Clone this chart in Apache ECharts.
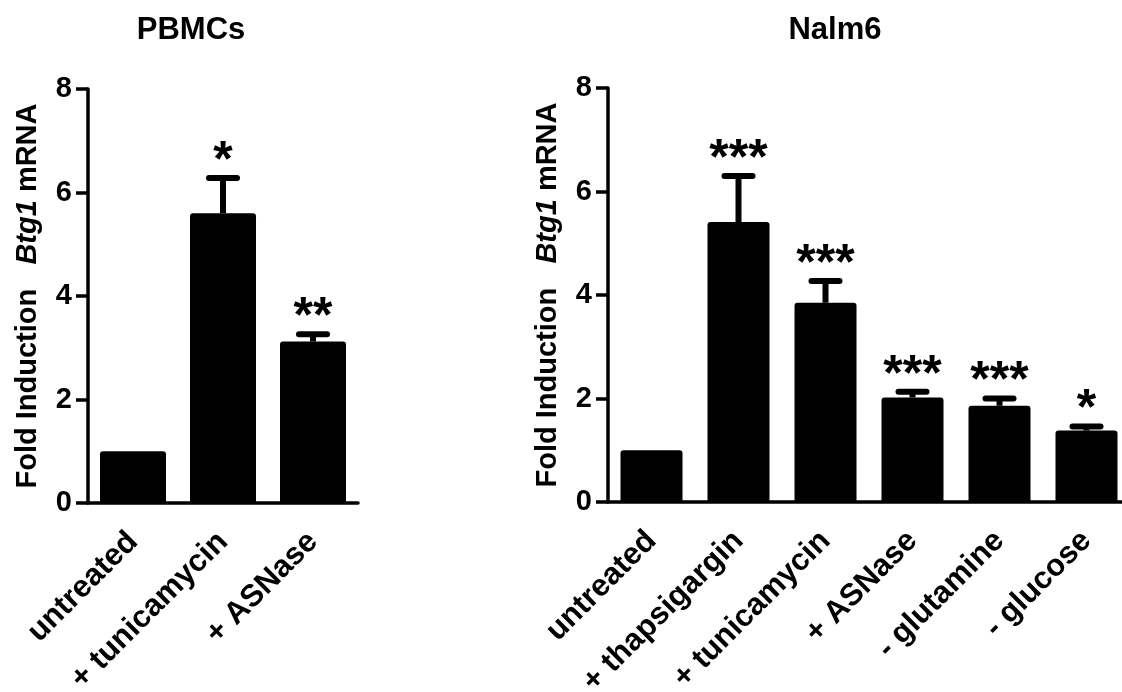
<!DOCTYPE html>
<html><head><meta charset="utf-8">
<script src="https://cdn.jsdelivr.net/npm/echarts@6/dist/echarts.min.js"></script>
<style>html,body{margin:0;padding:0;background:#fff}#c{width:1122px;height:692px}</style>
</head><body><div id="c"></div>
<script>
const pbmcCategories = ['untreated', '+ tunicamycin', '+ ASNase'];
const pbmcMeans = [1.0, 5.6, 3.12];
const pbmcErrTop = [1.0, 6.28, 3.26];
const pbmcStars = ['', '*', '**'];

const nalmCategories = ['untreated', '+ thapsigargin', '+ tunicamycin', '+ ASNase', '- glutamine', '- glucose'];
const nalmMeans = [1.0, 5.41, 3.85, 2.02, 1.86, 1.38];
const nalmErrTop = [1.0, 6.3, 4.27, 2.13, 2.0, 1.46];
const nalmStars = ['', '***', '***', '***', '***', '*'];

const yMin = 0, yMax = 8, yStep = 2;
const titles = ['PBMCs', 'Nalm6'];

const FONT = '"Liberation Sans", Arial, sans-serif';
const chart = echarts.init(document.getElementById('c'), null, {renderer: 'canvas'});

function errRender(stars) {
  return function (params, api) {
    const idx = api.value(0);
    const top = api.value(1);
    const mean = api.value(2);
    const p0 = api.coord([idx, mean]);
    const p1 = api.coord([idx, top]);
    const children = [];
    if (top > mean) {
      children.push({type: 'line', shape: {x1: p0[0], y1: p0[1], x2: p1[0], y2: p1[1]},
        style: {stroke: '#000', lineWidth: 6}});
      children.push({type: 'line', shape: {x1: p1[0] - 14, y1: p1[1], x2: p1[0] + 14, y2: p1[1]},
        style: {stroke: '#000', lineWidth: 6, lineCap: 'round'}});
    }
    const s = stars[idx];
    if (s) {
      children.push({type: 'text', x: p1[0], y: p1[1] - 16,
        style: {text: s, fill: '#000', font: 'bold 50px ' + FONT, align: 'center', verticalAlign: 'middle'}});
    }
    return {type: 'group', children: children};
  };
}

function xAxisCfg(gi, cats) {
  return {
    type: 'category', gridIndex: gi, data: cats,
    axisLine: {lineStyle: {color: '#000', width: 3.5}},
    axisTick: {alignWithLabel: true, length: 12, lineStyle: {color: '#000', width: 3.5}},
    axisLabel: {interval: 0, rotate: 45, margin: 34, color: '#000', fontSize: 31, fontWeight: 'bold', fontFamily: FONT}
  };
}
function yAxisCfg(gi) {
  return {
    type: 'value', gridIndex: gi, min: yMin, max: yMax, interval: yStep,
    name: '{a|Fold Induction   }{b|Btg1}{a| mRNA}',
    nameLocation: 'middle', nameGap: 46, nameRotate: 90,
    nameTextStyle: {rich: {
      a: {fontSize: 29, fontWeight: 'bold', fontFamily: FONT, color: '#000'},
      b: {fontSize: 29, fontWeight: 'bold', fontStyle: 'italic', fontFamily: FONT, color: '#000'}
    }},
    splitLine: {show: false},
    axisLine: {show: true, lineStyle: {color: '#000', width: 3.5}},
    axisTick: {show: true, length: 12, lineStyle: {color: '#000', width: 3.5}},
    axisLabel: {margin: 16, color: '#000', fontSize: 29, fontWeight: 'bold', fontFamily: FONT}
  };
}

chart.setOption({
  animation: false,
  backgroundColor: '#fff',
  title: [
    {text: titles[0], left: 186, top: 10, textAlign: 'center',
      textStyle: {fontSize: 31, fontWeight: 'bold', fontFamily: FONT, color: '#000'}},
    {text: titles[1], left: 830, top: 10, textAlign: 'center',
      textStyle: {fontSize: 31, fontWeight: 'bold', fontFamily: FONT, color: '#000'}}
  ],
  grid: [
    {left: 88, top: 89, width: 270, height: 414, outerBoundsMode: 'none', containLabel: false},
    {left: 608, top: 88, width: 522, height: 414, outerBoundsMode: 'none', containLabel: false}
  ],
  xAxis: [xAxisCfg(0, pbmcCategories), xAxisCfg(1, nalmCategories)],
  yAxis: [yAxisCfg(0), yAxisCfg(1)],
  series: [
    {type: 'bar', xAxisIndex: 0, yAxisIndex: 0, data: pbmcMeans, barWidth: 66,
      itemStyle: {color: '#000', borderRadius: [3, 3, 0, 0]}},
    {type: 'custom', xAxisIndex: 0, yAxisIndex: 0, renderItem: errRender(pbmcStars),
      data: pbmcCategories.map((c, i) => [i, pbmcErrTop[i], pbmcMeans[i]]), z: 3},
    {type: 'bar', xAxisIndex: 1, yAxisIndex: 1, data: nalmMeans, barWidth: 62,
      itemStyle: {color: '#000', borderRadius: [3, 3, 0, 0]}},
    {type: 'custom', xAxisIndex: 1, yAxisIndex: 1, renderItem: errRender(nalmStars),
      data: nalmCategories.map((c, i) => [i, nalmErrTop[i], nalmMeans[i]]), z: 3}
  ]
});
</script></body></html>
